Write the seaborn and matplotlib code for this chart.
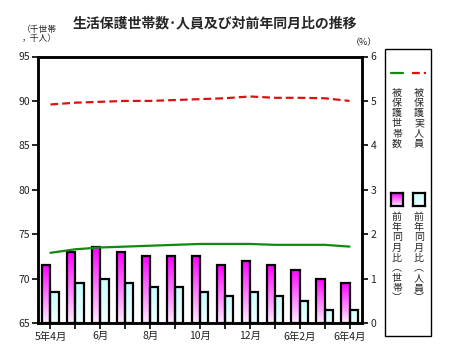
import numpy as np
import pandas as pd
import matplotlib
matplotlib.use("Agg")
import matplotlib.pyplot as plt
import seaborn as sns
from matplotlib.colors import LinearSegmentedColormap
from matplotlib.patches import Rectangle
from matplotlib.lines import Line2D

months = ["5年4月", "5月", "6月", "7月", "8月", "9月", "10月", "11月", "12月",
          "6年1月", "6年2月", "3月", "6年4月"]
tick_labels = ["5年4月", "", "6月", "", "8月", "", "10月", "", "12月", "", "6年2月", "", "6年4月"]
households = [72.9, 73.3, 73.5, 73.6, 73.7, 73.8, 73.9, 73.9, 73.9, 73.8, 73.8, 73.8, 73.6]
persons = [89.6, 89.8, 89.9, 90.0, 90.0, 90.1, 90.2, 90.3, 90.5, 90.35, 90.35, 90.3, 90.0]
yoy_households = [1.3, 1.6, 1.7, 1.6, 1.5, 1.5, 1.5, 1.3, 1.4, 1.3, 1.2, 1.0, 0.9]
yoy_persons = [0.7, 0.9, 1.0, 0.9, 0.8, 0.8, 0.7, 0.6, 0.7, 0.6, 0.5, 0.3, 0.3]

sns.set_theme(style="white")
plt.rcParams['font.family'] = ['Noto Sans CJK JP', 'DejaVu Sans']

fig = plt.figure(figsize=(4.67, 3.6), dpi=100)
ax = fig.add_axes([38/467, 1-323/360, (362-38)/467, (323-56.5)/360])
ax2 = ax.twinx()

n = len(months)
bar_df = pd.DataFrame({
    "month": months * 2,
    "value": yoy_households + yoy_persons,
    "series": ["世帯"] * n + ["人員"] * n,
})
sns.barplot(data=bar_df, x="month", y="value", hue="series", order=months,
            hue_order=["世帯", "人員"], palette=["#ff00ff", "#ccffff"],
            width=0.66, edgecolor="black", linewidth=1.6, ax=ax2, legend=False,
            errorbar=None, saturation=1)

# gradient fills
cmap_m = LinearSegmentedColormap.from_list("m", ["#ffeeff", "#ff00ff"])
cmap_c = LinearSegmentedColormap.from_list("c", ["#f4ffff", "#c8ffff"])
grad = np.linspace(0, 1, 256).reshape(-1, 1)
for i, p in enumerate(list(ax2.patches)):
    x0, y0 = p.get_x(), p.get_y()
    w, h = p.get_width(), p.get_height()
    if h <= 0:
        continue
    cm = cmap_m if i < n else cmap_c
    im = ax2.imshow(grad, cmap=cm, origin="lower", aspect="auto",
                    extent=[x0, x0 + w, y0, y0 + h], zorder=p.get_zorder() - 0.1)
    im.set_clip_path(p)
    p.set_facecolor("none")

line_df = pd.DataFrame({"x": np.arange(n), "households": households, "persons": persons})
sns.lineplot(data=line_df, x="x", y="households", color="#108a10", lw=1.6, ax=ax)
sns.lineplot(data=line_df, x="x", y="persons", color="#dd1111", lw=1.6, ax=ax,
             dashes=False, linestyle=(0, (3.5, 1.8)))

ax.set_zorder(ax2.get_zorder() + 1)
ax.patch.set_visible(False)

ax.set_ylim(65, 95)
ax.set_yticks([65, 70, 75, 80, 85, 90, 95])
ax2.set_ylim(0, 6)
ax2.set_yticks(range(0, 7))
ax.set_xlim(-0.5, n - 0.5)
ax2.set_xlim(-0.5, n - 0.5)
ax.set_xticks(range(n))
ax.set_xticklabels(tick_labels)
ax.set_xlabel("")
ax.set_ylabel("")
ax2.set_xlabel("")
ax2.set_ylabel("")
ax2.tick_params(axis="x", bottom=False, labelbottom=False)

for a in (ax, ax2):
    for s in a.spines.values():
        s.set_visible(True)
        s.set_color("black")
        s.set_linewidth(1.8)
ax.tick_params(axis="both", which="major", direction="out", length=4, width=1.2,
               color="black", labelsize=7.5, pad=2, labelcolor="#222222")
ax.tick_params(axis="y", left=True, right=False)
ax.tick_params(axis="x", bottom=True)
ax2.tick_params(axis="y", right=True, direction="out", length=4, width=1.2,
                color="black", labelsize=7.5, pad=2, labelcolor="#222222")

fig.text(0.46, 0.935, "生活保護世帯数･人員及び対前年同月比の推移", ha="center", va="center",
         fontsize=10, fontweight="bold")
fig.text(22/467, 1-34/360, "（千世帯\n，千人）", ha="left", va="center", fontsize=6.3,
         linespacing=1.0, color="#222222")
fig.text(364/467, 1-43/360, "（%）", ha="center", va="center", fontsize=6.5, color="#222222")

# legend box
fig.patches.append(Rectangle((385/467, 1-336/360), 46/467, (336-49)/360, transform=fig.transFigure,
                             fill=False, edgecolor="black", lw=1.0))
fig.lines.append(Line2D([391/467, 403/467], [1-73/360, 1-73/360], transform=fig.transFigure,
                        color="#108a10", lw=1.6))
fig.lines.append(Line2D([412/467, 426/467], [1-73/360, 1-73/360], transform=fig.transFigure,
                        color="#dd1111", lw=1.6, linestyle=(0, (3.5, 1.8))))
fig.text(397/467, 1-88/360, "\n".join("被保護世帯数"), ha="center", va="top", fontsize=7.2,
         linespacing=1.02)
fig.text(419/467, 1-88/360, "\n".join("被保護実人員"), ha="center", va="top", fontsize=7.2,
         linespacing=1.02)
for xc, cm in ((397, cmap_m), (419, cmap_c)):
    iax = fig.add_axes([(xc-6)/467, 1-206/360, 12/467, 13/360])
    iax.imshow(grad, cmap=cm, origin="lower", aspect="auto", extent=[0, 1, 0, 1])
    iax.set_xticks([]); iax.set_yticks([])
    for s in iax.spines.values():
        s.set_linewidth(1.6); s.set_color("black")
fig.text(397/467, 1-212/360, "\n".join("前年同月比︵世帯︶"), ha="center", va="top", fontsize=7.2,
         linespacing=1.02)
fig.text(419/467, 1-212/360, "\n".join("前年同月比︵人員︶"), ha="center", va="top", fontsize=7.2,
         linespacing=1.02)

fig.savefig("out.png", dpi=100)
